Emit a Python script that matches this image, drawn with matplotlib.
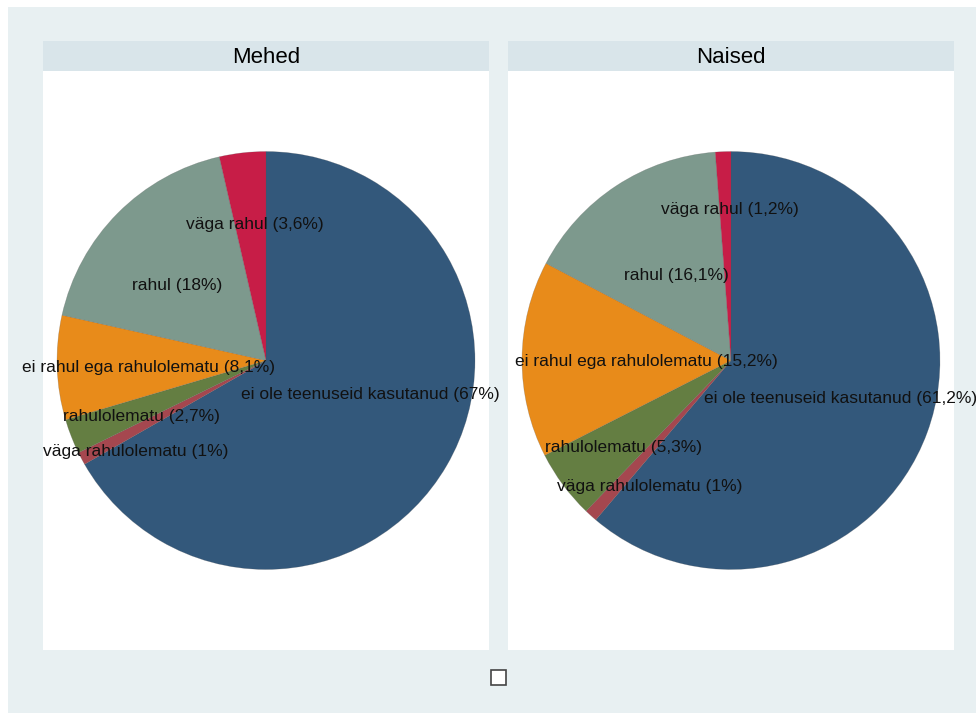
import matplotlib
matplotlib.use("Agg")
import matplotlib.pyplot as plt
from matplotlib.patches import Rectangle

plt.rcParams['font.family'] = ['Liberation Sans', 'DejaVu Sans']

# Satisfaction with services, by sex (percent)
categories = [
    "ei ole teenuseid kasutanud",
    "väga rahulolematu",
    "rahulolematu",
    "ei rahul ega rahulolematu",
    "rahul",
    "väga rahul",
]
panels = ["Mehed", "Naised"]
mehed = [67, 1, 2.7, 8.1, 18, 3.6]
naised = [61.2, 1, 5.3, 15.2, 16.1, 1.2]

colors = ["#33587b", "#a5474f", "#647e42", "#e88b1a", "#7d998d", "#c71d47"]
bg = "#e8f0f2"
strip = "#d9e5ea"

# where each label sits, in units of the pie radius
label_pos = {
    "Mehed": [(0.498, -0.163), (-0.623, -0.434), (-0.597, -0.266),
              (-0.560, -0.033), (-0.427, 0.359), (-0.055, 0.651)],
    "Naised": [(0.522, -0.182), (-0.390, -0.601), (-0.512, -0.418),
               (-0.404, -0.005), (-0.263, 0.407), (-0.005, 0.722)],
}

W, H = 976, 713
fig = plt.figure(figsize=(W / 100, H / 100), dpi=100, facecolor="white")


def px_rect(x0, y0, x1, y1):
    # pixel box (top-left origin) -> figure fraction rect
    return [x0 / W, 1 - y1 / H, (x1 - x0) / W, (y1 - y0) / H]


def bare(ax, color):
    ax.set_frame_on(True)
    ax.set_facecolor(color)
    ax.set_xticks([])
    ax.set_yticks([])
    for sp in ax.spines.values():
        sp.set_visible(False)


fig.patches.append(Rectangle((8 / W, 0), 1, 1 - 7 / H, transform=fig.transFigure,
                             facecolor=bg, edgecolor="none", zorder=-10))

radius_px = 209
for name, values, x0 in zip(panels, [mehed, naised], [43, 508]):
    x1 = x0 + 446
    # title strip
    sax = fig.add_axes(px_rect(x0, 41, x1, 71))
    bare(sax, strip)
    sax.text(0.5, 0.45, name, ha="center", va="center", fontsize=16, transform=sax.transAxes)

    ax = fig.add_axes(px_rect(x0, 71, x1, 650))
    ax.pie(values, colors=colors, startangle=90, counterclock=False, radius=1,
           wedgeprops=dict(linewidth=0.4, edgecolor="#55555555"))
    bare(ax, "white")
    hx = 446 / 2 / radius_px
    hy = 579 / 2 / radius_px
    ax.set_xlim(-hx, hx)
    ax.set_ylim(-hy, hy)
    ax.set_aspect("auto")

    for cat, v, (lx, ly) in zip(categories, values, label_pos[name]):
        txt = "{} ({}%)".format(cat, "{:g}".format(v).replace(".", ","))
        ax.text(lx, ly, txt, ha="center", va="center", fontsize=12.5, color="#111111")

# empty legend key
fig.patches.append(Rectangle((491 / W, 1 - 685 / H), 15 / W, 15 / H, transform=fig.transFigure,
                             facecolor="white", edgecolor="#444444", linewidth=1.2))

fig.savefig("out.png", dpi=100, facecolor="white")
